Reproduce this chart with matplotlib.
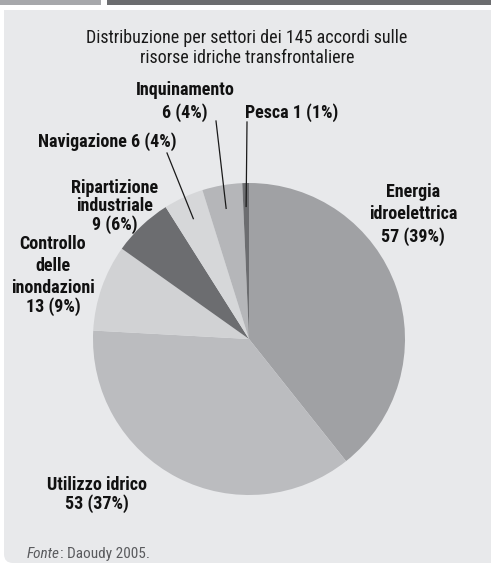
import matplotlib
matplotlib.use('Agg')
import matplotlib.pyplot as plt
from matplotlib import font_manager
from matplotlib.patches import FancyBboxPatch, Rectangle
import numpy as np

# pick a narrow face that also has a bold weight
faces = {}
for f in font_manager.fontManager.ttflist:
    if 'Narrow' in f.name or 'Condensed' in f.name or 'condensed' in str(f.stretch):
        w = f.weight if isinstance(f.weight, int) else (700 if 'bold' in str(f.weight) else 400)
        faces.setdefault(f.name, set()).add(w)
pref = ['Liberation Sans Narrow', 'Roboto Condensed', 'Open Sans Condensed', 'DejaVu Sans']
bold_ok = [n for n in faces if max(faces[n]) >= 600]
fam = next((n for n in pref if n in bold_ok), bold_ok[0] if bold_ok else 'DejaVu Sans')
plt.rcParams['font.family'] = [fam, 'DejaVu Sans']
plt.rcParams['font.stretch'] = 'condensed'

# data
sectors = ['Energia\nidroelettrica', 'Utilizzo idrico', 'Controllo\ndelle\ninondazioni',
           'Ripartizione\nindustriale', 'Navigazione', 'Inquinamento', 'Pesca']
counts = [57, 53, 13, 9, 6, 6, 1]
percents = [39, 37, 9, 6, 4, 4, 1]
colors = ['#a0a1a4', '#bbbcbf', '#d1d2d4', '#6c6d70', '#d6d7d9', '#b5b6b9', '#6c6d70']

title = 'Distribuzione per settori dei 145 accordi sulle\nrisorse idriche transfrontaliere'

W, H = 491, 565
fig = plt.figure(figsize=(W / 100, H / 100), dpi=100)
fig.patch.set_facecolor('white')
ax = fig.add_axes([0, 0, 1, 1])


def py(y):
    # pixel row (from top) -> data y
    return H - y


# pie
cx, cy, r = 249, py(339), 156
wedges, _ = ax.pie(counts, colors=colors, startangle=90, counterclock=False,
                   center=(cx, cy), radius=r, frame=True,
                   wedgeprops=dict(linewidth=0, zorder=3))
ax.set_xlim(0, W)
ax.set_ylim(0, H)
ax.set_aspect('equal')
ax.axis('off')

# header bars and panel
ax.add_patch(Rectangle((0, py(5)), 101, 5, facecolor='#a7a8ab', edgecolor='none'))
ax.add_patch(Rectangle((107, py(5)), 400, 5, facecolor='#6c6d70', edgecolor='none'))
panel = FancyBboxPatch((4, py(563)), 520, 553, boxstyle='round,pad=0,rounding_size=9',
                       facecolor='#e8e9eb', edgecolor='none', zorder=1)
ax.add_patch(panel)
ax.add_patch(Rectangle((4, py(40)), 520, 30, facecolor='#e8e9eb', edgecolor='none', zorder=1))

ax.text(247, py(48), title, ha='center', va='center', fontsize=13,
        color='#1a1a1a', linespacing=1.15)


def label(i, x, baselines, sep='\n', ha='center'):
    txt = sectors[i] + sep + f'{counts[i]} ({percents[i]}%)'
    for line, b in zip(txt.split('\n'), baselines):
        ax.text(x, py(b), line, ha=ha, va='baseline', fontsize=13,
                fontweight='bold', color='#111111', zorder=5)


label(0, 413, [197, 219, 242])
label(1, 97, [490, 509])
label(2, 53, [249, 271, 293, 312])
label(3, 115, [193, 211, 230])
label(4, 107, [147], sep=' ')
label(5, 185, [95, 118])
label(6, 245, [118], sep=' ', ha='left')

# leader lines to the small slices
starts = {4: (167, 153), 5: (216, 121), 6: (247, 122)}
for i, (sx, sy) in starts.items():
    w = wedges[i]
    mid = np.deg2rad((w.theta1 + w.theta2) / 2)
    ex = cx + 0.85 * r * np.cos(mid)
    ey = cy + 0.85 * r * np.sin(mid)
    ax.plot([sx, ex], [py(sy), ey], color='#1a1a1a', lw=0.9, zorder=4)

t = ax.text(27, py(558), 'Fonte', ha='left', va='baseline', fontsize=11,
            style='italic', color='#5a5b5e')
fig.canvas.draw()
bb = t.get_window_extent()
ax.text(bb.x1 + 0.5, py(558), ': Daoudy 2005.', ha='left', va='baseline', fontsize=11,
        color='#5a5b5e')

fig.savefig('out.png', dpi=100, facecolor=fig.get_facecolor())
